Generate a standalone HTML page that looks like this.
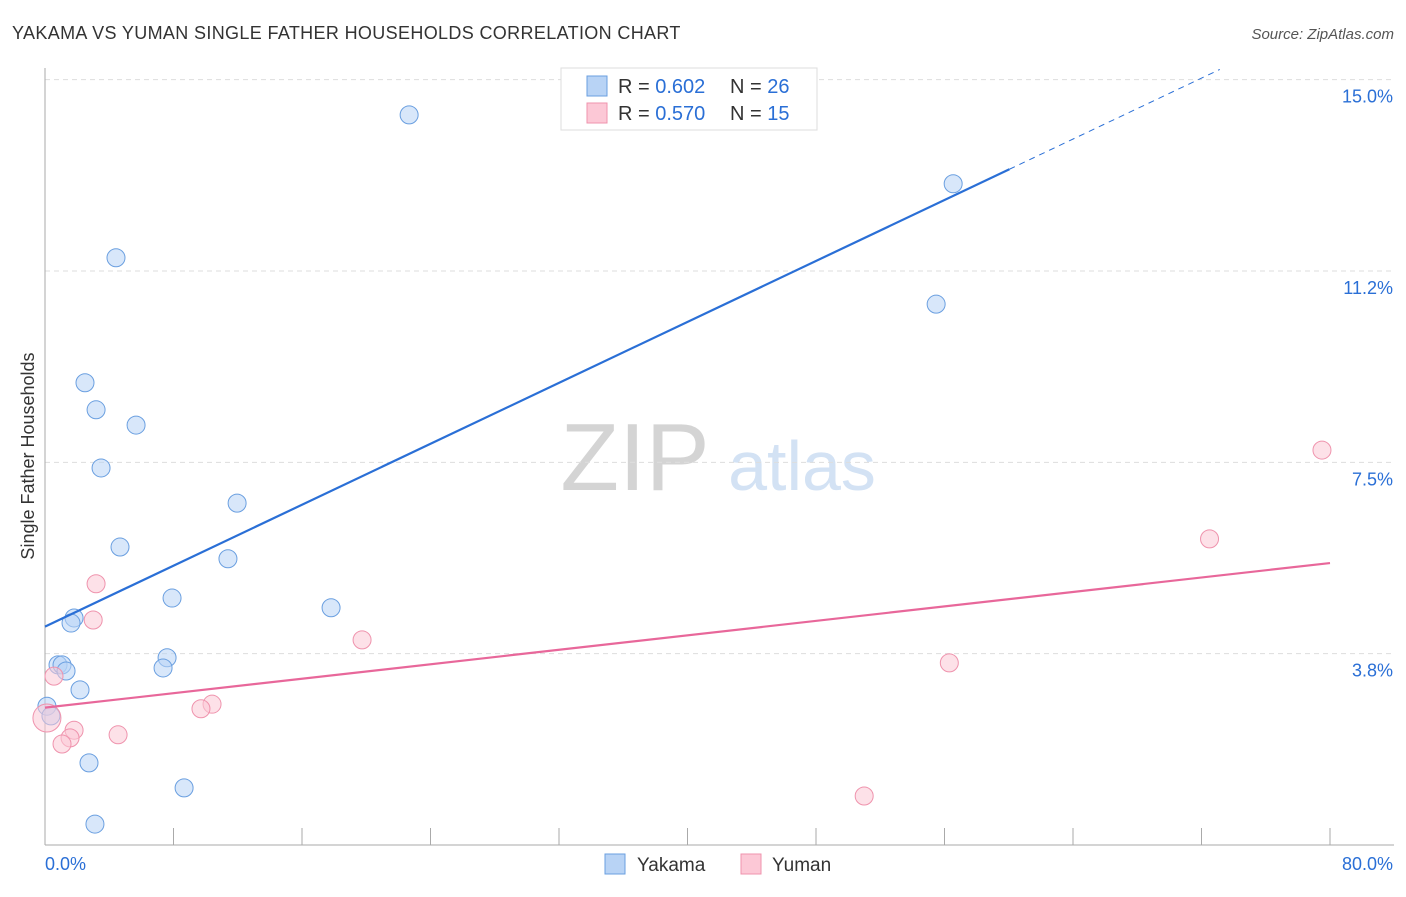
<!DOCTYPE html>
<html><head><meta charset="utf-8"><style>
body{margin:0;background:#fff;font-family:"Liberation Sans",sans-serif;}
svg text{font-family:"Liberation Sans",sans-serif;}
</style></head><body>
<svg id="c" width="1406" height="892" xmlns="http://www.w3.org/2000/svg">
<text x="12" y="39" font-size="18" fill="#333" letter-spacing="0.35">YAKAMA VS YUMAN SINGLE FATHER HOUSEHOLDS CORRELATION CHART</text>
<text x="1394" y="39" font-size="15" fill="#555" text-anchor="end" font-style="italic">Source: ZipAtlas.com</text>
<text x="34" y="456" font-size="18" fill="#333" text-anchor="middle" transform="rotate(-90 34 456)">Single Father Households</text>
<g><text x="635" y="490" font-size="96" fill="#d4d4d4" text-anchor="middle" font-family="Liberation Serif">ZIP</text><text x="802" y="490" font-size="70" fill="#d3e2f4" text-anchor="middle">atlas</text></g>
<g id="grid"></g><g id="axes"></g><g id="marks"></g>
<g>
<rect x="561" y="68" width="256" height="62" fill="#fff" stroke="#ddd"/>
<rect x="587" y="76" width="20" height="20" fill="#b8d3f5" stroke="#6a9fe0"/>
<rect x="587" y="103" width="20" height="20" fill="#fcc8d6" stroke="#ef93ad"/>
<text x="618" y="93" font-size="20" fill="#333">R = <tspan fill="#2a6fd6">0.602</tspan></text>
<text x="730" y="93" font-size="20" fill="#333">N = <tspan fill="#2a6fd6">26</tspan></text>
<text x="618" y="120" font-size="20" fill="#333">R = <tspan fill="#2a6fd6">0.570</tspan></text>
<text x="730" y="120" font-size="20" fill="#333">N =  <tspan fill="#2a6fd6">15</tspan></text>
</g>
<g>
<rect x="605" y="854" width="20" height="20" fill="#b8d3f5" stroke="#6a9fe0"/>
<text x="637" y="871" font-size="19" fill="#333">Yakama</text>
<rect x="741" y="854" width="20" height="20" fill="#fcc8d6" stroke="#ef93ad"/>
<text x="772" y="871" font-size="19" fill="#333">Yuman</text>
</g>
</svg>
<script>
const yakamaX=[22.67,56.54,4.42,55.48,2.49,3.18,5.67,3.49,11.96,4.67,11.39,7.91,17.81,1.81,1.62,0.81,1.06,1.31,7.60,7.35,2.18,0.12,0.37,2.74,8.66,3.11];
const yakamaY=[14.31,12.96,11.51,10.60,9.06,8.53,8.23,7.39,6.70,5.84,5.61,4.84,4.65,4.45,4.35,3.53,3.53,3.41,3.67,3.47,3.04,2.72,2.53,1.61,1.12,0.41];
const yumanX=[79.5,72.5,3.18,3.0,19.74,56.3,0.56,10.4,9.71,0.12,1.81,1.56,1.06,4.55,51.0];
const yumanY=[7.74,6.0,5.12,4.41,4.02,3.57,3.31,2.76,2.67,2.49,2.25,2.10,1.98,2.16,0.96];
const yumanR=[9,9,9,9,9,9,9,9,9,14,9,9,9,9,9];
const yTicks=[3.75,7.5,11.25,15];
const yTickLabels=["3.8%","7.5%","11.2%","15.0%"];
const xTicks=[0,8,16,24,32,40,48,56,64,72,80];
const NS="http://www.w3.org/2000/svg";
const X=v=>45+v*(1285/80), Y=v=>845-v*(574/11.25);
function mk(p,t,a){const e=document.createElementNS(NS,t);for(const k in a)e.setAttribute(k,a[k]);document.getElementById(p).appendChild(e);return e;}
yTicks.forEach((t,i)=>{
 const l=mk('grid','line',{x1:45,x2:1394,y1:Y(t),y2:Y(t),stroke:'#ddd','stroke-dasharray':'5,4'});
 
 
 const tx=mk('grid','text',{x:1393,y:Y(t)+23,'font-size':18,fill:'#2a6fd6','text-anchor':'end'});
 tx.textContent=yTickLabels[i];
 
 
});
const ax=mk('axes','line',{x1:45,x2:45,y1:68,y2:845,stroke:'#aaa'});


const bx=mk('axes','line',{x1:45,x2:1394,y1:845,y2:845,stroke:'#aaa'});


xTicks.forEach(t=>{const l=mk('axes','line',{x1:X(t),x2:X(t),y1:828,y2:845,stroke:'#aaa'});
 
 });
const xl0=mk('axes','text',{x:45,y:870,'font-size':18,fill:'#2a6fd6'});xl0.textContent='0.0%';


const xl1=mk('axes','text',{x:1393,y:870,'font-size':18,fill:'#2a6fd6','text-anchor':'end'});xl1.textContent='80.0%';


function fit(xs,ys){const n=xs.length;let mx=0,my=0;xs.forEach((v,i)=>{mx+=v;my+=ys[i];});mx/=n;my/=n;let sxy=0,sxx=0;xs.forEach((v,i)=>{sxy+=(v-mx)*(ys[i]-my);sxx+=(v-mx)**2;});const b=sxy/sxx;return [my-b*mx,b];}
function pts(xs,ys,rs,fill,stroke,name){xs.forEach((v,i)=>{const c=mk('marks','circle',{cx:X(v),cy:Y(ys[i]),r:rs?rs[i]:9,fill:fill,'fill-opacity':0.55,stroke:stroke,'stroke-width':1});
 
 });}
pts(yakamaX,yakamaY,null,'#b8d3f5','#6a9fe0','yakama-point');
pts(yumanX,yumanY,yumanR,'#fcc8d6','#ef93ad','yuman-point');
const [a1,b1]=fit(yakamaX,yakamaY);
const xe=Math.max(...yakamaX)+3.5;
const t1=mk('marks','line',{x1:X(0),y1:Y(a1),x2:X(xe),y2:Y(a1+b1*xe),stroke:'#2a6fd6','stroke-width':2.2});


const xd=Math.min(80,(15.2-a1)/b1);
const t1d=mk('marks','line',{x1:X(xe),y1:Y(a1+b1*xe),x2:X(xd),y2:Y(a1+b1*xd),stroke:'#2a6fd6','stroke-width':1,'stroke-dasharray':'6,5'});


const [a2,b2]=fit(yumanX,yumanY);
const t2=mk('marks','line',{x1:X(0),y1:Y(a2),x2:X(80),y2:Y(a2+b2*80),stroke:'#e8679a','stroke-width':2.2});


</script>
</body></html>
